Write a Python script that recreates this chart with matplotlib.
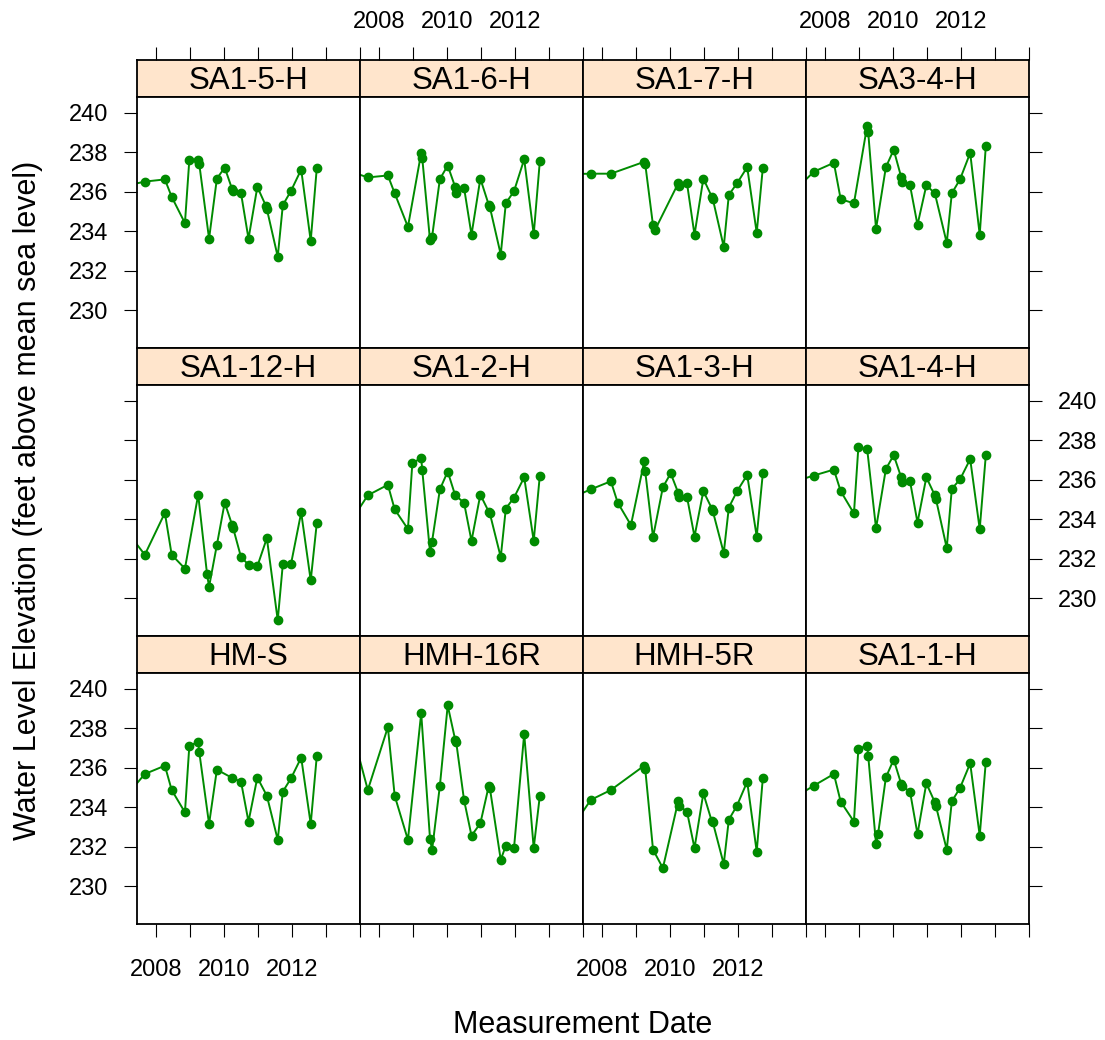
import matplotlib
matplotlib.use("Agg")
import numpy as np
import matplotlib.pyplot as plt

plt.rcParams['font.family'] = ['Liberation Sans', 'DejaVu Sans']

# measurement dates (decimal years), shared by all wells; None = no reading
dates = [2007.05, 2007.68, 2008.27, 2008.47, 2008.86, 2008.99, 2009.25, 2009.28,
         2009.51, 2009.57, 2009.80, 2010.03, 2010.25, 2010.28, 2010.51, 2010.73,
         2010.99, 2011.24, 2011.27, 2011.59, 2011.74, 2011.98, 2012.28, 2012.56,
         2012.74]

sa1_5_h = [236.28, 236.52, 236.63, 235.75, 234.42, 237.63, 237.63, 237.43, None, 233.63,
           236.67, 237.23, 236.13, 236.02, 235.93, 233.63, 236.25, 235.30, 235.13, 232.72,
           235.33, 236.05, 237.13, 233.52, 237.23]
sa1_6_h = [237.10, 236.73, 236.83, 235.93, 234.23, None, 237.97, 237.73, 233.55, 233.72,
           236.65, 237.33, 236.25, 235.93, 236.22, 233.83, 236.67, 235.33, 235.23, 232.83,
           235.43, 236.03, 237.65, 233.85, 237.55]
sa1_7_h = [236.90, 236.92, 236.92, None, None, None, 237.52, 237.42, 234.30, 234.08,
           None, None, 236.43, 236.30, 236.43, 233.83, 236.67, 235.75, 235.63, 233.22,
           235.85, 236.43, 237.25, 233.93, 237.22]
sa3_4_h = [235.95, 237.02, 237.47, 235.63, 235.42, None, 239.35, 239.02, 234.13, None,
           237.25, 238.13, 236.75, 236.50, 236.33, 234.33, 236.33, 235.93, None, 233.42,
           235.93, 236.63, 237.97, 233.83, 238.33]
sa1_12_h = [233.62, 232.21, 234.33, 232.21, 231.51, None, 235.25, None, 231.24, 230.59,
            232.71, 234.85, 233.71, 233.55, 232.09, 231.71, 231.63, None, 233.05, 228.90,
            231.74, 231.74, 234.35, 230.91, 233.83]
sa1_2_h = [233.56, 235.22, 235.75, 234.51, 233.51, 236.85, 237.10, 236.52, 232.34, 232.88,
           235.52, 236.42, 235.22, None, 234.85, 232.91, 235.25, 234.38, 234.30, 232.09,
           234.55, 235.10, 236.13, 232.91, 236.22]
sa1_3_h = [235.05, 235.52, 235.93, 234.85, 233.71, None, 236.93, 236.43, 233.10, None,
           235.63, 236.33, 235.35, 235.12, 235.13, 233.13, 235.43, 234.55, 234.41, 232.30,
           234.60, 235.42, 236.25, 233.13, 236.33]
sa1_4_h = [235.88, 236.22, 236.52, 235.43, 234.30, 237.64, 237.55, None, 233.55, None,
           236.55, 237.25, 236.13, 235.88, 235.93, 233.84, 236.13, 235.22, 235.05, 232.55,
           235.55, 236.02, 237.05, 233.51, 237.25]
hm_s = [234.41, 235.69, 236.11, 234.88, 233.75, 237.13, 237.30, 236.82, None, 233.16,
        235.91, None, 235.49, None, 235.30, 233.28, 235.51, None, 234.59, 232.36,
        234.80, 235.47, 236.52, 233.16, 236.62]
hmh_16r = [238.95, 234.88, 238.06, 234.59, 232.36, None, 238.77, None, 232.40, 231.84,
           235.10, 239.16, 237.42, 237.30, 234.38, 232.57, 233.19, 235.10, 234.98, 231.35,
           232.06, 231.94, 237.72, 231.94, 234.59]
hmh_5r = [232.79, 234.38, 234.88, None, None, None, 236.11, 235.95, 231.86, None,
          230.93, None, 234.31, 234.09, 233.78, 231.94, 234.71, 233.29, 233.24, 231.13,
          233.38, 234.09, 235.30, 231.76, 235.49]
sa1_1_h = [234.43, 235.10, 235.69, 234.29, 233.28, 236.96, 237.13, 236.62, 232.15, 232.65,
           235.52, 236.42, 235.19, 235.07, 234.80, 232.65, 235.22, 234.26, 234.09, 231.86,
           234.31, 234.98, 236.23, 232.57, 236.32]

# panel layout, top row first
names = [["SA1-5-H", "SA1-6-H", "SA1-7-H", "SA3-4-H"],
         ["SA1-12-H", "SA1-2-H", "SA1-3-H", "SA1-4-H"],
         ["HM-S", "HMH-16R", "HMH-5R", "SA1-1-H"]]
series = [[sa1_5_h, sa1_6_h, sa1_7_h, sa3_4_h],
          [sa1_12_h, sa1_2_h, sa1_3_h, sa1_4_h],
          [hm_s, hmh_16r, hmh_5r, sa1_1_h]]

year_ticks = [2008, 2009, 2010, 2011, 2012, 2013, 2014]
year_labels = ["2008", "", "2010", "", "2012", "", ""]
elev_ticks = [230, 232, 234, 236, 238, 240]

xlim = (2007.45, 2014.01)
ylim = (228.1, 240.8)

W, H = 1105, 1040
fig = plt.figure(figsize=(W / 100, H / 100), dpi=100)


def frac(x0, y0, w, h):
    return [x0 / W, 1 - (y0 + h) / H, w / W, h / H]


left, top = 137, 60
col_w, row_h, strip_h = 223, 288, 37
green = '#008B00'
tick_kw = dict(direction='out', length=9.5, width=0.8, labelsize=17, color='black')

for r in range(3):
    for c in range(4):
        x0 = left + c * col_w
        y0 = top + r * row_h
        # strip
        sax = fig.add_axes(frac(x0, y0, col_w, strip_h))
        sax.set_facecolor('#FFE5CC')
        sax.set_xlim(*xlim)
        sax.set_ylim(0, 1)
        sax.set_yticks([])
        sax.text(0.5, 0.42, names[r][c], transform=sax.transAxes,
                 ha='center', va='center', fontsize=22.5)
        if r == 0:
            sax.xaxis.tick_top()
            sax.set_xticks(year_ticks, labels=year_labels if c % 2 == 1 else [""] * 7)
            sax.tick_params(axis='x', pad=10, **tick_kw)
        else:
            sax.set_xticks([])
        for sp in sax.spines.values():
            sp.set_linewidth(1.3)

        # panel
        ax = fig.add_axes(frac(x0, y0 + strip_h, col_w, row_h - strip_h))
        d = [t for t, v in zip(dates, series[r][c]) if v is not None]
        v = [v for v in series[r][c] if v is not None]
        ax.plot(d, v, color=green, lw=1.4, marker='o', ms=6,
                mec=green, mfc=green)
        ax.set_xlim(*xlim)
        ax.set_ylim(*ylim)
        for sp in ax.spines.values():
            sp.set_linewidth(1.3)

        if r == 2:
            ax.set_xticks(year_ticks, labels=year_labels if c % 2 == 0 else [""] * 7)
            ax.tick_params(axis='x', pad=16, **tick_kw)
        else:
            ax.set_xticks([])

        if c == 0 or c == 3:
            ax.set_yticks(elev_ticks)
            ax.tick_params(axis='y', pad=11, **tick_kw)
            show = (c == 0 and r != 1) or (c == 3 and r == 1)
            ax.tick_params(axis='y', left=(c == 0), right=(c == 3),
                           labelleft=(show and c == 0), labelright=(show and c == 3))
        else:
            ax.set_yticks([])

fig.text(583 / W, 1 - 1025 / H, "Measurement Date", ha='center', va='center', fontsize=22)
fig.text(28 / W, 1 - 500 / H, "Water Level Elevation (feet above mean sea level)",
         ha='center', va='center', rotation=90, fontsize=22)

fig.savefig("out.png", dpi=100)
